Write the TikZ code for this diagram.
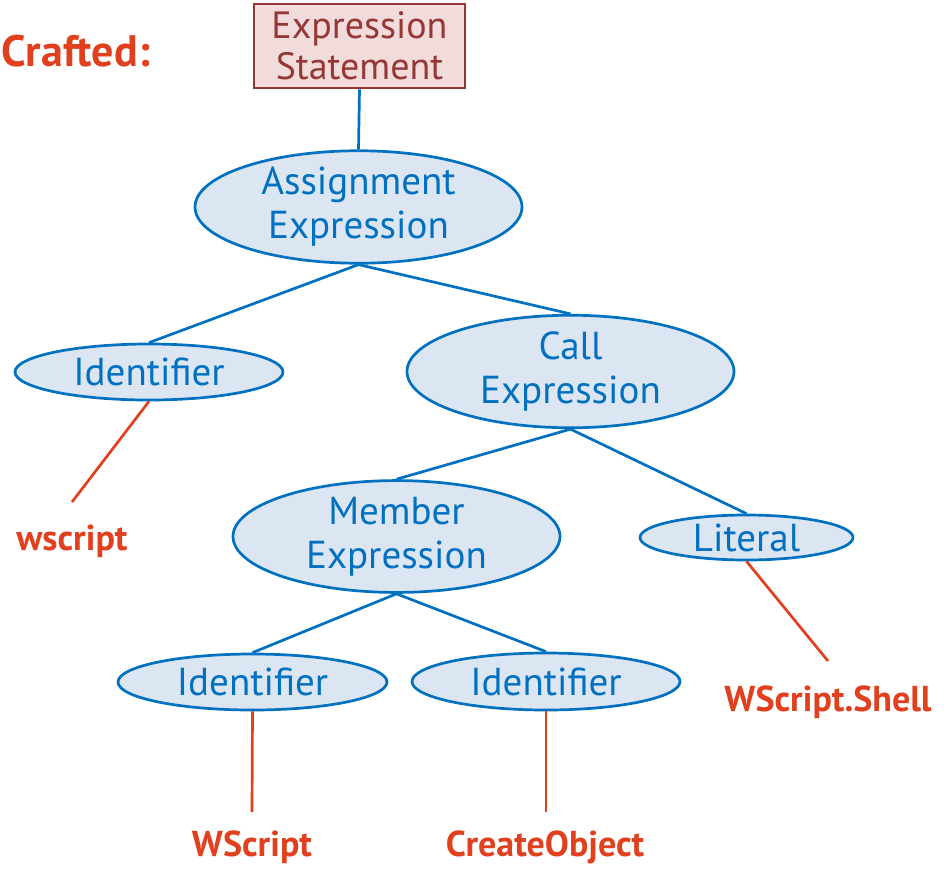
\documentclass[tikz,border=0pt]{standalone}
\usepackage{fontspec}
\setmainfont{PT Sans}
\usetikzlibrary{shapes.geometric}
\definecolor{nodeblue}{HTML}{0070C0}
\definecolor{nodefill}{HTML}{DCE6F2}
\definecolor{leafred}{HTML}{E0401E}
\definecolor{stmtred}{HTML}{953735}
\definecolor{stmtfill}{HTML}{F2DCDB}
\tikzset{
  astnode/.style={ellipse, draw=nodeblue, fill=nodefill, line width=2.7pt,
    text=nodeblue, inner sep=0pt, align=center,
    font=\fontsize{39}{44}\selectfont},
  stmtbox/.style={rectangle, draw=stmtred, fill=stmtfill, line width=2.7pt,
    text=stmtred, inner sep=0pt, align=center,
    minimum width=211pt, minimum height=84pt,
    font=\fontsize{38}{41}\selectfont},
  edge/.style={draw=nodeblue, line width=2.7pt},
  leafedge/.style={draw=leafred, line width=2.7pt},
  leaf/.style={text=leafred, inner sep=0pt, font=\fontsize{36}{40}\selectfont\bfseries},
}
\begin{document}
\begin{tikzpicture}[x=1pt, y=-1pt]
  \useasboundingbox (0,0) rectangle (950,868);
  \node[leaf, anchor=base east, font=\fontsize{44}{48}\selectfont\bfseries] (title) at (150,66) {Crafted:};

  % statement and expression nodes
  \node[stmtbox] (stmt) at (359.5,46) {Expression\\Statement};
  \node[astnode, minimum width=327pt, minimum height=90pt] (assign) at (358.5,207) {Assignment\\Expression};
  \node[astnode, minimum width=268pt, minimum height=56pt] (idA) at (149,372) {Identifier};
  \node[astnode, minimum width=327pt, minimum height=93pt] (call) at (570.5,371.5) {Call\\Expression};
  \node[astnode, minimum width=327pt, minimum height=93pt] (member) at (396.5,536.5) {Member\\Expression};
  \node[astnode, minimum width=213pt, minimum height=45pt] (literal) at (746.5,537.5) {Literal};
  \node[astnode, minimum width=269pt, minimum height=56pt] (idB) at (252.5,682) {Identifier};
  \node[astnode, minimum width=268pt, minimum height=57pt] (idC) at (546,681.5) {Identifier};

  % leaf values
  \node[leaf, anchor=base] (wscriptlc) at (72,550) {wscript};
  \node[leaf, anchor=base] (shell) at (828,711) {WScript.Shell};
  \node[leaf, anchor=base] (wscript) at (252,856) {WScript};
  \node[leaf, anchor=base] (create) at (545,856) {CreateObject};

  \coordinate (endA) at (72,502);
  \coordinate (endL) at (828,661);
  \coordinate (endB) at (252,812);
  \coordinate (endC) at (546,812);

  % tree edges
  \draw[edge] (stmt.south) -- (assign.north);
  \draw[edge] (assign.south) -- (idA.north);
  \draw[edge] (assign.south) -- (call.north);
  \draw[edge] (call.south) -- (member.north);
  \draw[edge] (call.south) -- (literal.north);
  \draw[edge] (member.south) -- (idB.north);
  \draw[edge] (member.south) -- (idC.north);

  % edges to leaf values
  \draw[leafedge] (idA.south) -- (endA);
  \draw[leafedge] (literal.south) -- (endL);
  \draw[leafedge] (idB.south) -- (endB);
  \draw[leafedge] (idC.south) -- (endC);
\end{tikzpicture}
\end{document}
